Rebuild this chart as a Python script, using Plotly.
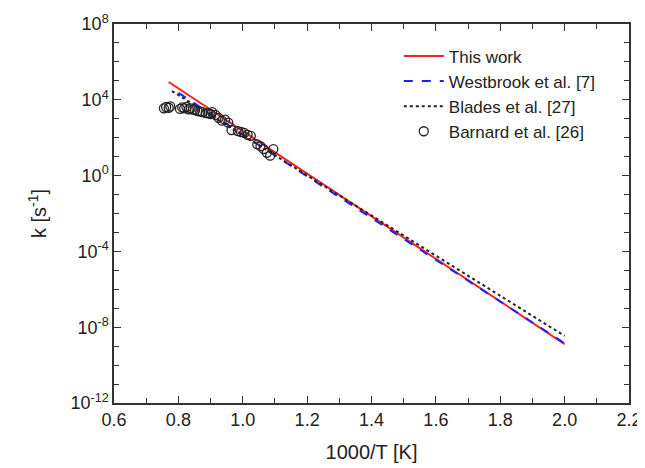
import numpy as np
import plotly.graph_objects as go

# Arrhenius fits: log10(k) = A - B * (1000/T)
this_work_x = [0.77, 2.0]
this_work_logk = [4.94, -8.89]
westbrook_x = [0.80, 2.0]
westbrook_logk = [4.37, -8.85]
blades_x = [0.78, 2.0]
blades_logk = [4.46, -8.46]

barnard_x = [0.755, 0.762, 0.770, 0.775, 0.805, 0.812, 0.818, 0.825, 0.832, 0.838,
             0.845, 0.852, 0.860, 0.868, 0.875, 0.885, 0.893, 0.900, 0.905, 0.915,
             0.925, 0.935, 0.945, 0.955, 0.965, 0.985, 0.995, 1.005, 1.015, 1.025,
             1.045, 1.055, 1.065, 1.075, 1.085, 1.095]
barnard_logk = [3.55, 3.62, 3.58, 3.65, 3.52, 3.60, 3.55, 3.62, 3.50, 3.55,
                3.48, 3.45, 3.40, 3.38, 3.35, 3.30, 3.28, 3.25, 3.35, 3.20,
                3.05, 2.90, 2.95, 2.80, 2.40, 2.35, 2.30, 2.25, 2.15, 2.10,
                1.65, 1.55, 1.40, 1.20, 1.05, 1.40]

x_tickvals = [0.6, 0.8, 1.0, 1.2, 1.4, 1.6, 1.8, 2.0, 2.2]
x_ticktext = ["0.6", "0.8", "1.0", "1.2", "1.4", "1.6", "1.8", "2.0", "2.2"]
y_tickvals = [1e8, 1e4, 1e0, 1e-4, 1e-8, 1e-12]
y_ticktext = ["10<sup>8</sup>", "10<sup>4</sup>", "10<sup>0</sup>",
              "10<sup>-4</sup>", "10<sup>-8</sup>", "10<sup>-12</sup>"]


def line_pts(xs, ys, n=60):
    x = np.linspace(xs[0], xs[1], n)
    ly = np.interp(x, xs, ys)
    return x, 10 ** ly


fig = go.Figure()
x, y = line_pts(this_work_x, this_work_logk)
fig.add_trace(go.Scatter(x=x, y=y, mode="lines", name="This work",
                         line=dict(color="#FF2020", width=2)))
x, y = line_pts(westbrook_x, westbrook_logk)
fig.add_trace(go.Scatter(x=x, y=y, mode="lines", name="Westbrook et al. [7]",
                         line=dict(color="#2020FF", width=2, dash="dash")))
x, y = line_pts(blades_x, blades_logk)
fig.add_trace(go.Scatter(x=x, y=y, mode="lines", name="Blades et al. [27]",
                         line=dict(color="#222222", width=2, dash="dot")))
fig.add_trace(go.Scatter(x=barnard_x, y=[10 ** v for v in barnard_logk], mode="markers",
                         name="Barnard et al. [26]",
                         marker=dict(symbol="circle-open", size=9, color="#222222",
                                     line=dict(width=1.3))))

font = "Liberation Sans, Arial, sans-serif"
tick_style = dict(ticks="inside", ticklen=7, tickwidth=1.3, tickcolor="#333333",
                  showline=True, linecolor="#333333", linewidth=1.5, mirror="ticks",
                  showgrid=False, zeroline=False, tickfont=dict(size=18),
                  automargin=False)
fig.update_layout(
    width=645, height=468,
    margin=dict(l=106, r=24, t=16, b=73),
    paper_bgcolor="white", plot_bgcolor="white",
    font=dict(family=font, color="#222222", size=18),
    showlegend=True,
    legend=dict(x=0.553, y=0.962, xanchor="left", yanchor="top",
                bgcolor="rgba(0,0,0,0)", font=dict(size=17), tracegroupgap=0,
                itemwidth=40),
    xaxis=dict(range=[0.6, 2.2], tickvals=x_tickvals, ticktext=x_ticktext,
               minor=dict(dtick=0.1, tick0=0.6, ticks="inside", ticklen=5,
                          tickwidth=1.2, tickcolor="#333333"),
               title=dict(text="1000/T [K]", font=dict(size=20), standoff=16),
               **tick_style),
    yaxis=dict(type="log", range=[-12, 8], tickvals=y_tickvals, ticktext=y_ticktext,
               minor=dict(tickmode="linear", tick0=0, dtick=1, ticks="inside", ticklen=5,
                          tickwidth=1.2, tickcolor="#333333"),
               title=dict(text="k [s<sup>-1</sup>]", font=dict(size=20), standoff=18),
               **tick_style),
)

fig.write_html("out.html")
